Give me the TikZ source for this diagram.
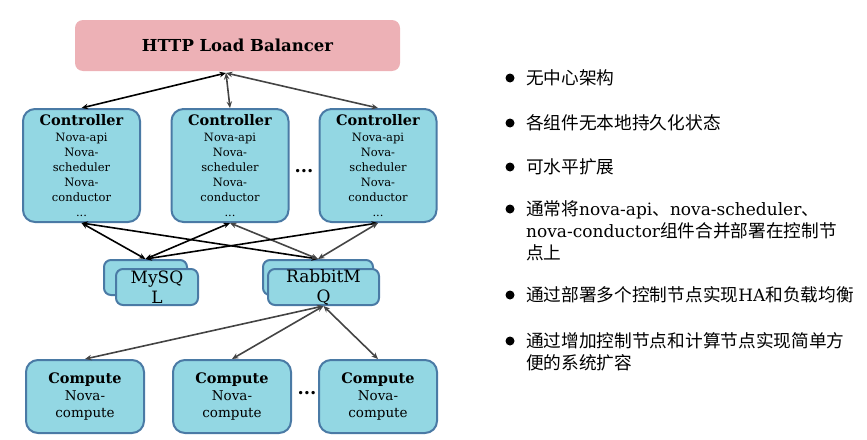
\documentclass[tikz,border=0pt]{standalone}
\usepackage{fontspec}
\setmainfont{DejaVu Serif}
\newfontfamily\cjk{Noto Sans CJK SC}[Scale=1.04]
\usetikzlibrary{arrows.meta}
\definecolor{lbpink}{HTML}{EDB1B6}
\definecolor{nodecyan}{HTML}{93D7E3}
\definecolor{nodeedge}{HTML}{4A7AA5}
\definecolor{arrowgray}{HTML}{444444}
\newcommand\zh[1]{{\cjk #1}}
\newcommand\ctrltext{{\bfseries\fontsize{14.5}{17}\selectfont Controller}\\[1pt]
  Nova-api\\ Nova-\\ scheduler\\ Nova-\\ conductor\\ ...}
\newcommand\comptext{{\bfseries\fontsize{14.5}{17}\selectfont Compute}\\ Nova-\\ compute}
\tikzset{
  nodebox/.style={draw=nodeedge, line width=2pt, fill=nodecyan,
    rounded corners=12pt, align=center, inner sep=0pt},
  ctrlbox/.style={nodebox, minimum width=117pt, minimum height=113pt,
    font=\fontsize{11.5}{15}\selectfont},
  compbox/.style={nodebox, minimum width=118pt, minimum height=73pt,
    font=\fontsize{13.5}{17}\selectfont},
  stackbox/.style={nodebox, rounded corners=7pt, font=\fontsize{17}{20}\selectfont},
  link/.style={{Stealth[length=6.5pt,width=5.5pt]}-{Stealth[length=6.5pt,width=5.5pt]},
    line width=1.6pt},
  blacklink/.style={link, draw=black},
  graylink/.style={link, draw=arrowgray},
  ellipsis/.style={font=\bfseries\fontsize{18}{18}\selectfont, inner sep=0pt},
  bulletdot/.style={circle, fill=black, inner sep=0pt, minimum size=9pt},
  bullettext/.style={anchor=west, align=left, inner sep=0pt,
    font=\fontsize{17}{22}\selectfont},
}
\begin{document}
\begin{tikzpicture}[x=1pt,y=1pt]
    \def\x{1}
    \def\y{-1}
    \useasboundingbox (0,0) rectangle (867*\x,439*\y);
    % load balancer
    \node [fill=lbpink, rounded corners=8pt, minimum width=325pt, minimum height=51pt,
      font=\bfseries\fontsize{16.5}{19}\selectfont] (lb) at (237.5*\x, 45.5*\y) {HTTP Load Balancer};
    \coordinate (lbpt) at (226*\x, 73*\y);
    % controllers
    \node [ctrlbox] (ctrl1) at (81.5*\x, 165.5*\y) {\ctrltext};
    \node [ctrlbox] (ctrl2) at (230*\x, 165.5*\y) {\ctrltext};
    \node [ctrlbox] (ctrl3) at (378*\x, 165.5*\y) {\ctrltext};
    \node [ellipsis] (cdots) at (304*\x, 171*\y) {...};
    % shared services
    \node [stackbox, minimum width=83pt, minimum height=35pt] (mysqlb) at (145.5*\x, 277.5*\y) {};
    \node [stackbox, minimum width=82pt, minimum height=36pt] (mysql) at (157*\x, 287*\y) {MySQ\\L};
    \node [stackbox, minimum width=110pt, minimum height=35pt] (rabbitb) at (318*\x, 277.5*\y) {};
    \node [stackbox, minimum width=111pt, minimum height=36pt] (rabbit) at (323.5*\x, 287*\y) {RabbitM\\Q};
    % computes
    \node [compbox] (comp1) at (85*\x, 396.5*\y) {\comptext};
    \node [compbox] (comp2) at (232*\x, 396.5*\y) {\comptext};
    \node [compbox] (comp3) at (378*\x, 396.5*\y) {\comptext};
    \node [ellipsis] (pdots) at (307*\x, 393*\y) {...};
    % links
    \path (lbpt) edge [blacklink] (ctrl1.north);
    \path (lbpt) edge [graylink] (ctrl2.north);
    \path (lbpt) edge [graylink] (ctrl3.north);
    \path (ctrl1.south) edge [blacklink] (mysqlb.north);
    \path (ctrl1.south) edge [blacklink] (rabbitb.north);
    \path (ctrl2.south) edge [blacklink] (mysqlb.north);
    \path (ctrl2.south) edge [graylink] (rabbitb.north);
    \path (ctrl3.south) edge [blacklink] (mysqlb.north);
    \path (ctrl3.south) edge [graylink] (rabbitb.north);
    \path (rabbit.south) edge [graylink] (comp1.north);
    \path (rabbit.south) edge [graylink] (comp2.north);
    \path (rabbit.south) edge [graylink] (comp3.north);
    % notes
    \node [bulletdot] (b1) at (510*\x, 78*\y) {};
    \node [bullettext] (t1) at (526*\x, 78*\y) {\zh{无中心架构}};
    \node [bulletdot] (b2) at (510*\x, 123*\y) {};
    \node [bullettext] (t2) at (526*\x, 123*\y) {\zh{各组件无本地持久化状态}};
    \node [bulletdot] (b3) at (510*\x, 167*\y) {};
    \node [bullettext] (t3) at (526*\x, 167*\y) {\zh{可水平扩展}};
    \node [bulletdot] (b4) at (510*\x, 209*\y) {};
    \node [bullettext] (t4) at (526*\x, 231*\y)
      {\zh{通常将}nova-api\zh{、}nova-scheduler\zh{、}\\nova-conductor\zh{组件合并部署在控制节}\\\zh{点上}};
    \node [bulletdot] (b5) at (510*\x, 295*\y) {};
    \node [bullettext] (t5) at (526*\x, 295*\y) {\zh{通过部署多个控制节点实现}HA\zh{和负载均衡}};
    \node [bulletdot] (b6) at (510*\x, 341*\y) {};
    \node [bullettext] (t6) at (526*\x, 352*\y) {\zh{通过增加控制节点和计算节点实现简单方}\\\zh{便的系统扩容}};
  \end{tikzpicture}
\end{document}
